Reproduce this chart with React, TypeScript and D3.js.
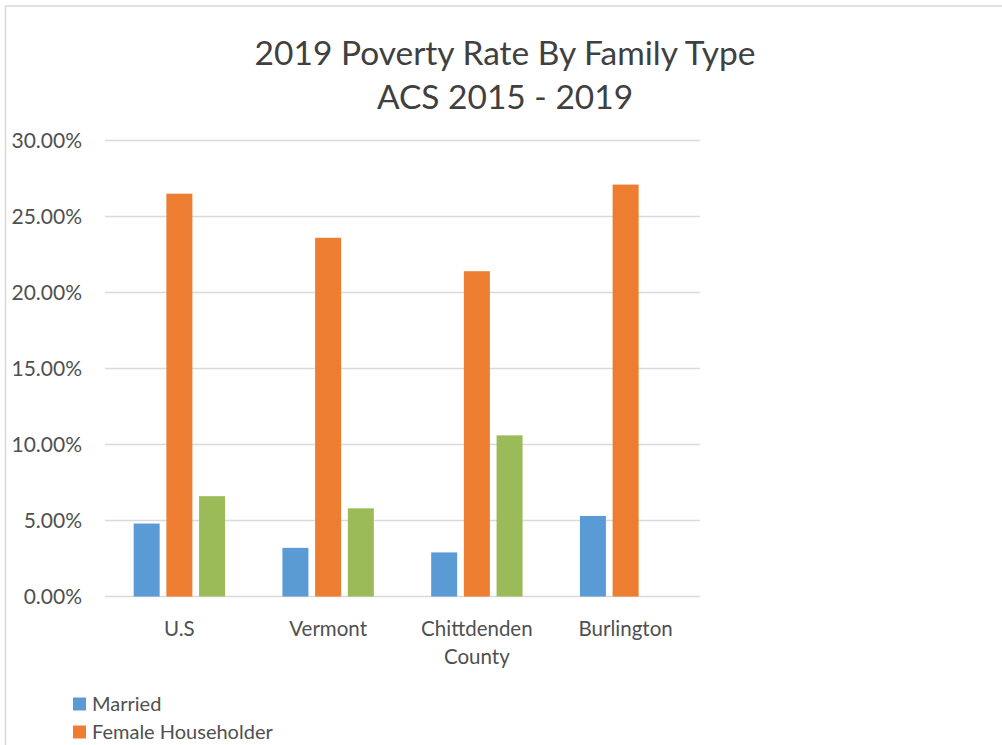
import React from "react";
import * as d3 from "d3";

const categories = ["U.S", "Vermont", "Chittdenden County", "Burlington"];
const seriesNames = ["Married", "Female Householder", "Male Householder"];
const marriedValues = [0.048, 0.032, 0.029, 0.053];
const femaleValues = [0.265, 0.236, 0.214, 0.271];
const maleValues: (number | null)[] = [0.066, 0.058, 0.106, null];
const yTicks = [0, 0.05, 0.1, 0.15, 0.2, 0.25, 0.3];
const titleLines = ["2019 Poverty Rate By Family Type", "ACS 2015 - 2019"];

const colors = ["#5B9BD5", "#ED7D31", "#9BBB59"];
const FONT = "Lato, 'Open Sans', sans-serif";

export default function App() {
  const width = 1002;
  const height = 745;
  const plotLeft = 105;
  const plotRight = 700;
  const plotTop = 140.5;
  const plotBottom = 596.5;

  const x = d3.scaleBand<string>().domain(categories).range([plotLeft, plotRight]).padding(0);
  const inner = d3
    .scaleBand<string>()
    .domain(seriesNames)
    .range([-45.7, 45.7])
    .paddingInner(0.205)
    .paddingOuter(0);
  const y = d3.scaleLinear().domain([0, 0.3]).range([plotBottom, plotTop]);
  const fmt = d3.format(".2%");

  const seriesValues = [marriedValues, femaleValues, maleValues];

  const wrap = (label: string) =>
    label.length > 12 && label.includes(" ") ? label.split(" ") : [label];

  const legendY0 = 697.5;
  const legendStep = 28;

  return (
    <svg
      width={width}
      height={height}
      style={{ position: "absolute", left: 0, top: 0, background: "#fff" }}
      fontFamily={FONT}
    >
      <rect x={0} y={0} width={width} height={height} fill="#fff" />
      {/* chart area border */}
      <rect
        x={5.5}
        y={6}
        width={width + 20}
        height={height + 20}
        fill="none"
        stroke="#d9d9d9"
        strokeWidth={1.5}
      />
      {/* title */}
      {titleLines.map((t, i) => (
        <text
          key={t}
          x={505}
          y={64.5 + i * 44.5}
          textAnchor="middle"
          fontSize={33.5}
          fill="#404040"
        >
          {t}
        </text>
      ))}
      {/* gridlines and y labels */}
      {yTicks.map((t) => (
        <g key={t}>
          <line
            x1={plotLeft}
            x2={plotRight}
            y1={y(t)}
            y2={y(t)}
            stroke="#d9d9d9"
            strokeWidth={1.5}
          />
          <text
            x={82}
            y={y(t) + 7.6}
            textAnchor="end"
            fontSize={21}
            fill="#505050"
          >
            {fmt(t)}
          </text>
        </g>
      ))}
      {/* bars */}
      {seriesValues.map((vals, si) =>
        vals.map((v, ci) => {
          if (v === null || v === undefined) return null;
          const cx = (x(categories[ci]) as number) + x.bandwidth() / 2;
          const bx = cx + (inner(seriesNames[si]) as number);
          return (
            <rect
              key={`${si}-${ci}`}
              x={bx}
              y={y(v)}
              width={inner.bandwidth()}
              height={y(0) - y(v)}
              fill={colors[si]}
            />
          );
        })
      )}
      {/* category labels */}
      {categories.map((c) => {
        const cx = (x(c) as number) + x.bandwidth() / 2;
        return (
          <text key={c} textAnchor="middle" fontSize={20.5} fill="#505050">
            {wrap(c).map((line, li) => (
              <tspan key={li} x={cx} y={635.7 + li * 28.5}>
                {line}
              </tspan>
            ))}
          </text>
        );
      })}
      {/* legend (rows beyond the visible area are clipped in the original) */}
      {seriesNames.map((s, i) => {
        const ry = legendY0 + i * legendStep;
        if (ry + 13 > height) return null;
        return (
          <g key={s}>
            <rect x={73} y={ry} width={13} height={13} fill={colors[i]} />
            <text x={92} y={ry + 13.8} fontSize={20} fill="#505050">
              {s}
            </text>
          </g>
        );
      })}
    </svg>
  );
}
